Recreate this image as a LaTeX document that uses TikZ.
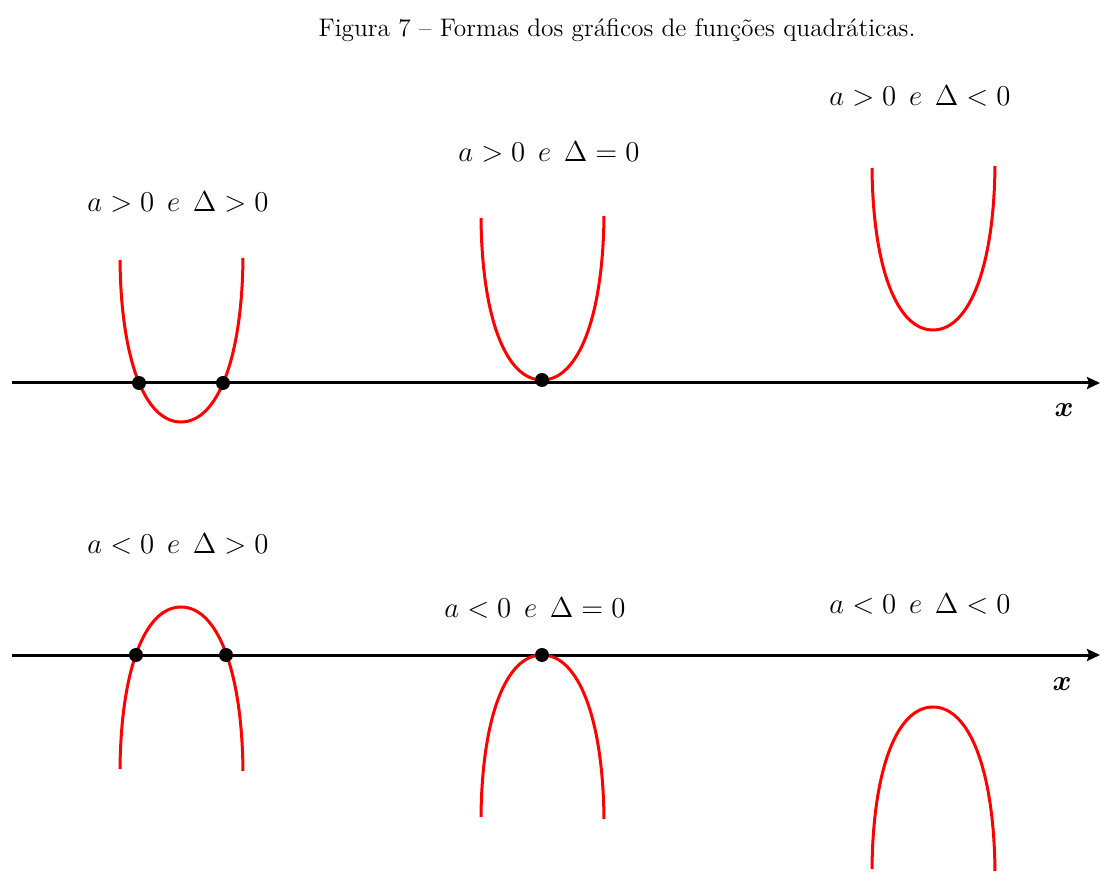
\documentclass[tikz,border=0pt]{standalone}
\usepackage{amsmath}
\usepackage{tikz}
\usetikzlibrary{arrows.meta}
\definecolor{curvaVermelho}{HTML}{FF0000}

\begin{document}
\begin{tikzpicture}[x=0.5pt, y=-0.5pt,
    eixo/.style={line width=1.5pt, -{Stealth[length=6.5pt, width=6pt, inset=1pt]}},
    curva/.style={curvaVermelho, line width=1.5pt},
    raiz/.style={circle, fill=black, inner sep=0pt, minimum size=7pt},
    rotulo/.style={font=\fontsize{15.5}{18}\selectfont}]
    \useasboundingbox (0,0) rectangle (1100,872);
    \node[font=\fontsize{12.7}{15}\selectfont] (titulo) at (617,30) {Figura 7 -- Formas dos gr\'aficos de fun\c{c}\~oes quadr\'aticas.};
    % eixos
    \coordinate (eixoSupA) at (12,383);
    \coordinate (eixoSupB) at (1100,383);
    \coordinate (eixoInfA) at (12,655);
    \coordinate (eixoInfB) at (1100,655);
    \draw[eixo] (eixoSupA) -- (eixoSupB);
    \draw[eixo] (eixoInfA) -- (eixoInfB);
    \node[font=\fontsize{15}{18}\selectfont] (xSup) at (1064,410) {$\boldsymbol{x}$};
    \node[font=\fontsize{15}{18}\selectfont] (xInf) at (1062,684) {$\boldsymbol{x}$};
    % parabolas
    \foreach \vx/\vy/\d in {181/422/1, 542/380/1, 933/330/1, 181/607/-1, 542/655/-1, 933/707/-1}
      \draw[curva] (\vx-61,\vy-\d*162) .. controls (\vx-60,\vy-\d*62) and (\vx-36,\vy) .. (\vx,\vy)
                   .. controls (\vx+36,\vy) and (\vx+61,\vy-\d*62) .. (\vx+62,\vy-\d*164);
    % raizes
    \node[raiz] (r1) at (139,383) {};
    \node[raiz] (r2) at (223,383) {};
    \node[raiz] (r3) at (542,380) {};
    \node[raiz] (r4) at (136,655) {};
    \node[raiz] (r5) at (226,655) {};
    \node[raiz] (r6) at (542,655) {};
    % rotulos
    \node[rotulo] (c1) at (178,202) {$a>0\;\,e\;\,\Delta>0$};
    \node[rotulo] (c2) at (549,152) {$a>0\;\,e\;\,\Delta=0$};
    \node[rotulo] (c3) at (920,96)  {$a>0\;\,e\;\,\Delta<0$};
    \node[rotulo] (c4) at (178,544) {$a<0\;\,e\;\,\Delta>0$};
    \node[rotulo] (c5) at (535,608) {$a<0\;\,e\;\,\Delta=0$};
    \node[rotulo] (c6) at (920,604) {$a<0\;\,e\;\,\Delta<0$};
\end{tikzpicture}
\end{document}
